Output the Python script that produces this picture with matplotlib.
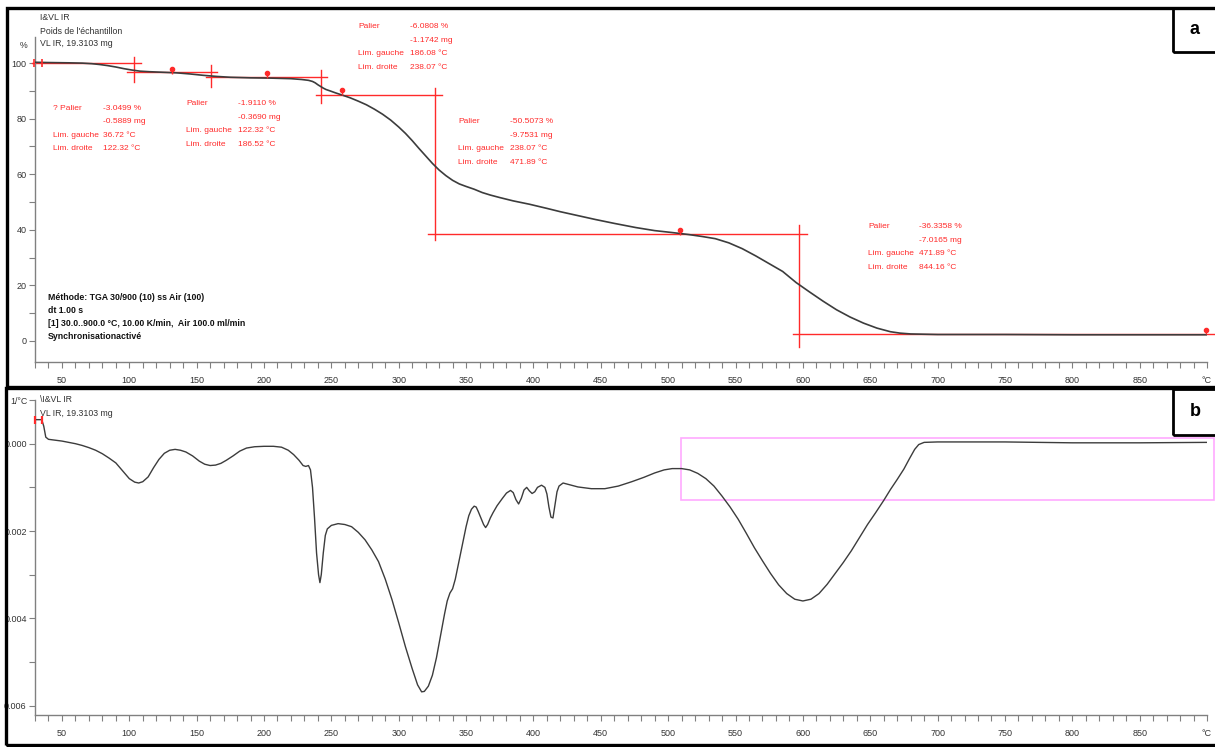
import matplotlib
matplotlib.use('Agg')
import matplotlib.pyplot as plt
from matplotlib.patches import Rectangle
from matplotlib.ticker import MultipleLocator, FixedLocator, FixedFormatter

plt.rcParams['font.family'] = ['Liberation Sans', 'DejaVu Sans']

# ---------------- data ----------------
# TGA curve (temperature °C, mass %)
tga_T = [30, 40, 55, 65, 72, 78, 84, 90, 96, 102, 108, 115, 125, 135, 145, 155, 165,
         175, 190, 205, 220, 228, 233, 236, 238, 240, 242, 244, 246, 249, 253, 258,
         264, 270, 276, 282, 288, 294, 300, 305, 310, 315, 320, 325, 330, 335, 340,
         345, 350, 356, 362, 368, 375, 385, 397, 410, 420, 433, 446, 460, 476, 490,
         503, 515, 525, 535, 545, 555, 565, 575, 585, 595, 605, 615, 625, 635, 645,
         655, 665, 672, 680, 690, 700, 750, 800, 850, 900]
tga_pct = [100.3, 100.2, 100.1, 100.0, 99.8, 99.5, 99.1, 98.6, 98.0, 97.5, 97.1, 96.9,
           96.7, 96.5, 96.1, 95.6, 95.2, 94.9, 94.7, 94.6, 94.4, 94.1, 93.8, 93.4,
           92.9, 92.2, 91.6, 91.0, 90.5, 90.0, 89.3, 88.5, 87.5, 86.3, 85.0, 83.4,
           81.6, 79.5, 77.0, 74.7, 72.1, 69.3, 66.6, 63.9, 61.5, 59.5, 57.8, 56.5,
           55.6, 54.6, 53.4, 52.5, 51.6, 50.4, 49.2, 47.7, 46.5, 45.1, 43.7, 42.3,
           40.8, 39.7, 39.0, 38.3, 37.6, 36.8, 35.3, 33.2, 30.6, 27.8, 25.0, 21.0,
           17.6, 14.3, 11.2, 8.6, 6.4, 4.6, 3.3, 2.8, 2.5, 2.4, 2.3, 2.3, 2.2, 2.2, 2.2]

# DTG curve (temperature °C, 1/°C, plotted downward)
dtg_T = [30, 35, 36.5, 38, 40, 45, 50, 55, 60, 65, 70, 75, 80, 85, 90, 95, 100, 104,
         107, 110, 114, 118, 122, 126, 130, 134, 138, 142, 147, 152, 156, 160, 164,
         168, 172, 177, 182, 187, 193, 200, 207, 213, 218, 222, 226, 229, 231, 233,
         234.5, 236, 237.5, 239, 240.5, 241.5, 242.5, 244, 245.5, 247, 250, 255, 260,
         265, 270, 275, 280, 285, 290, 295, 300, 305, 310, 314, 317, 319, 322, 325,
         328, 331, 334, 336, 338, 340, 342, 344, 346, 348, 350, 352, 354, 356, 357.5,
         359, 361, 363, 364.5, 366, 368, 370, 373, 377, 380, 383, 385, 387, 389, 391,
         393, 395, 397, 399, 401, 403, 406, 408.5, 410, 411.5, 413, 414.5, 416, 417.5,
         419, 422, 427, 433, 443, 453, 463, 473, 482, 490, 497, 503, 510, 516, 522,
         528, 534, 540, 546, 552, 558, 564, 570, 576, 582, 588, 594, 600, 606, 612,
         618, 624, 630, 636, 642, 648, 654, 660, 665, 670, 675, 679, 683, 686, 690,
         700, 750, 800, 850, 900]
dtg_val = [-0.00055, -0.00055, -0.0004, -0.00015, -0.0001, -0.00008, -0.00006,
           -0.00003, 0.0, 0.00004, 0.00009, 0.00015, 0.00023, 0.00033, 0.00044,
           0.00062, 0.00080, 0.00088, 0.0009, 0.00087, 0.00076, 0.00055, 0.00036,
           0.00022, 0.00015, 0.00013, 0.00015, 0.00019, 0.00028, 0.0004, 0.00047,
           0.0005, 0.00049, 0.00045, 0.00038, 0.00028, 0.00017, 0.0001, 0.00007,
           0.00006, 0.00006, 0.00008, 0.00015, 0.00025, 0.00038, 0.0005, 0.00052,
           0.0005, 0.0006, 0.0010, 0.0017, 0.0025, 0.003, 0.00318, 0.003, 0.0025,
           0.0021, 0.00195, 0.00187, 0.00183, 0.00185, 0.0019, 0.00203, 0.0022,
           0.00243, 0.0027, 0.0031, 0.00357, 0.0041, 0.00465, 0.00515, 0.00552,
           0.00568, 0.00567, 0.00555, 0.0053, 0.0049, 0.0044, 0.0039, 0.0036,
           0.00342, 0.00332, 0.0031, 0.0028, 0.0025, 0.0022, 0.0019, 0.00165, 0.0015,
           0.00143, 0.00145, 0.00155, 0.0017, 0.00185, 0.00192, 0.00185, 0.0017,
           0.00158, 0.00142, 0.00125, 0.00113, 0.00107, 0.00112, 0.00128, 0.00138,
           0.00125, 0.00106, 0.001, 0.00108, 0.00114, 0.0011, 0.001, 0.00095, 0.001,
           0.00115, 0.00145, 0.00168, 0.0017, 0.0014, 0.0011, 0.00097, 0.0009,
           0.00094, 0.00099, 0.00103, 0.00103, 0.00097, 0.00087, 0.00077, 0.00067,
           0.0006, 0.00057, 0.00057, 0.0006, 0.00068, 0.0008, 0.00097, 0.0012,
           0.00145, 0.00173, 0.00205, 0.00238, 0.00268, 0.00297, 0.00323, 0.00343,
           0.00356, 0.0036, 0.00356, 0.00343, 0.00322, 0.00297, 0.00272, 0.00245,
           0.00215, 0.00185, 0.00158, 0.0013, 0.00105, 0.00082, 0.00058, 0.00035,
           0.00013, 0.00002, -0.00003, -0.00004, -0.00004, -0.00002, -0.00002,
           -0.00003]

# step-analysis construction lines (TGA)
step_h_T0 = [27.7, 98, 157, 238.5, 322, 593]
step_h_T1 = [108.6, 165, 246.7, 332, 603, 905]
step_h_pct = [100.0, 96.9, 94.9, 88.7, 38.5, 2.5]
step_v_T = [103.4, 160.6, 242.2, 326.8, 597]
step_v_lo = [93.2, 91.4, 85.6, 36.3, -2.2]
step_v_hi = [102.2, 99.3, 97.5, 91.0, 41.7]
pin_T = [131.5, 201.9, 257.6, 509.1, 899.5]
pin_pct = [97.8, 96.3, 90.3, 39.9, 4.0]

# DTG marked window
win_T = [509.4, 905]
win_val = [-0.00014, 0.0013]

x_ticks = [50, 100, 150, 200, 250, 300, 350, 400, 450, 500, 550, 600, 650, 700,
           750, 800, 850, 900]
x_labels = ['50', '100', '150', '200', '250', '300', '350', '400', '450', '500',
            '550', '600', '650', '700', '750', '800', '850', '°C']
y1_ticks = [0, 20, 40, 60, 80, 100]
y1_labels = ['0', '20', '40', '60', '80', '100']
y2_ticks = [0.000, 0.002, 0.004, 0.006]
y2_labels = ['0.000', '0.002', '0.004', '0.006']

palier_labels = [['? Palier', '', 'Lim. gauche', 'Lim. droite'],
                 ['Palier', '', 'Lim. gauche', 'Lim. droite'],
                 ['Palier', '', 'Lim. gauche', 'Lim. droite'],
                 ['Palier', '', 'Lim. gauche', 'Lim. droite'],
                 ['Palier', '', 'Lim. gauche', 'Lim. droite']]
palier_values = [['-3.0499 %', '-0.5889 mg', '36.72 °C', '122.32 °C'],
                 ['-1.9110 %', '-0.3690 mg', '122.32 °C', '186.52 °C'],
                 ['-6.0808 %', '-1.1742 mg', '186.08 °C', '238.07 °C'],
                 ['-50.5073 %', '-9.7531 mg', '238.07 °C', '471.89 °C'],
                 ['-36.3358 %', '-7.0165 mg', '471.89 °C', '844.16 °C']]

# ---------------- figure ----------------
W, H = 1215, 747
def fx(x):
    return x / W
def fy(y):
    return 1 - y / H

fig = plt.figure(figsize=(12.15, 7.47), dpi=100)
fig.patch.set_facecolor('white')

ax1 = fig.add_axes([fx(35), fy(362), fx(1207) - fx(35), fy(37) - fy(362)])
ax2 = fig.add_axes([fx(35), fy(715), fx(1207) - fx(35), fy(400) - fy(715)])

axis_col = '#808080'
for ax in (ax1, ax2):
    ax.set_xlim(30, 900)
    ax.spines['top'].set_visible(False)
    ax.spines['right'].set_visible(False)
    for s in ('left', 'bottom'):
        ax.spines[s].set_color(axis_col)
        ax.spines[s].set_linewidth(1.0)
    ax.xaxis.set_major_locator(FixedLocator(x_ticks))
    ax.xaxis.set_major_formatter(FixedFormatter(x_labels))
    ax.xaxis.set_minor_locator(MultipleLocator(10))
    ax.tick_params(which='both', direction='out', length=4, width=0.8,
                   color=axis_col, labelsize=6.5, labelcolor='#333333')
    ax.tick_params(axis='x', which='both', pad=6)
    ax.tick_params(axis='y', which='both', pad=2)
    ax.set_facecolor('white')

# --- TGA ---
ax1.set_ylim(-7.6, 109.4)
ax1.yaxis.set_major_locator(FixedLocator(y1_ticks))
ax1.yaxis.set_major_formatter(FixedFormatter(y1_labels))
ax1.yaxis.set_minor_locator(FixedLocator([10, 30, 50, 70, 90]))
red = '#ff2a2a'
for t0, t1, p in zip(step_h_T0, step_h_T1, step_h_pct):
    ax1.plot([t0, t1], [p, p], color=red, lw=1.0, clip_on=False, zorder=2)
for t, lo, hi in zip(step_v_T, step_v_lo, step_v_hi):
    ax1.plot([t, t], [lo, hi], color=red, lw=1.0, clip_on=False, zorder=2)
ax1.plot(tga_T, tga_pct, color='#3c3c3c', lw=1.2, zorder=3)
ax1.vlines(pin_T, [p - 1.6 for p in pin_pct], pin_pct, color=red, lw=1.0, zorder=4)
ax1.plot(pin_T, pin_pct, 'o', color=red, ms=3, zorder=4, clip_on=False)
ax1.plot([29.5, 35.5], [100.0, 100.0], '|', color=red, ms=6, mew=1.2, clip_on=False, zorder=4)

# --- DTG ---
ax2.set_ylim(0.00621, -0.001)
ax2.yaxis.set_major_locator(FixedLocator(y2_ticks))
ax2.yaxis.set_major_formatter(FixedFormatter(y2_labels))
ax2.yaxis.set_minor_locator(FixedLocator([-0.001, 0.001, 0.003, 0.005]))
ax2.add_patch(Rectangle((win_T[0], win_val[0]), win_T[1] - win_T[0], win_val[1] - win_val[0],
                        fill=False, ec='#ffaaff', lw=1.2, clip_on=False, zorder=2))
ax2.plot(dtg_T, dtg_val, color='#3c3c3c', lw=1.0, zorder=3)
ax2.plot([30, 35.5], [-0.00055, -0.00055], '|', color=red, ms=6, mew=1.6, clip_on=False, zorder=4)

# --- frames and panel letters ---
for (x0, y0, x1, y1) in [(7, 8, 1217, 387), (6, 388, 1217, 745)]:
    fig.patches.append(Rectangle((fx(x0), fy(y1)), fx(x1) - fx(x0), fy(y0) - fy(y1),
                                 transform=fig.transFigure, fill=False, ec='black', lw=2.4))
for (x0, y0, x1, y1), letter in [((1173, 8, 1217, 52), 'a'), ((1173, 389, 1217, 435), 'b')]:
    fig.patches.append(Rectangle((fx(x0), fy(y1)), fx(x1) - fx(x0), fy(y0) - fy(y1),
                                 transform=fig.transFigure, fill=False, ec='black', lw=2.0))
    fig.text(fx(1195), fy((y0 + y1) / 2), letter, ha='center', va='center',
             fontsize=13, fontweight='bold', color='black')

# --- header texts ---
txt = '#333333'
fs = 6.3
for y, s in [(18, 'I&VL IR'), (31, "Poids de l'échantillon"), (44, 'VL IR, 19.3103 mg')]:
    fig.text(fx(40), fy(y), s, ha='left', va='center', fontsize=fs, color=txt)
for y, s in [(400, '\\I&VL IR'), (413, 'VL IR, 19.3103 mg')]:
    fig.text(fx(40), fy(y), s, ha='left', va='center', fontsize=fs, color=txt)
fig.text(fx(24), fy(45), '%', ha='center', va='center', fontsize=fs, color=txt)
fig.text(fx(19), fy(402), '1/°C', ha='center', va='center', fontsize=fs, color=txt)

method = ['Méthode: TGA 30/900 (10) ss Air (100)', 'dt 1.00 s',
          '[1] 30.0..900.0 °C, 10.00 K/min,  Air 100.0 ml/min', 'Synchronisationactivé']
for i, s in enumerate(method):
    fig.text(fx(48), fy(297 + 13.3 * i), s, ha='left', va='center', fontsize=fs,
             fontweight='bold', color='#111111')

# --- red step annotations ---
anchors = [(53, 103, 108), (186, 238, 103.5), (358, 410, 26.5), (458, 510, 121.5), (868, 919, 226.5)]
for (xl, xv, y0), labs, vals in zip(anchors, palier_labels, palier_values):
    for i in range(4):
        yy = y0 + 13.6 * i
        if labs[i]:
            fig.text(fx(xl), fy(yy), labs[i], ha='left', va='center', fontsize=6.0, color=red)
        fig.text(fx(xv), fy(yy), vals[i], ha='left', va='center', fontsize=6.0, color=red)

fig.savefig('out.png', dpi=100, facecolor='white')
